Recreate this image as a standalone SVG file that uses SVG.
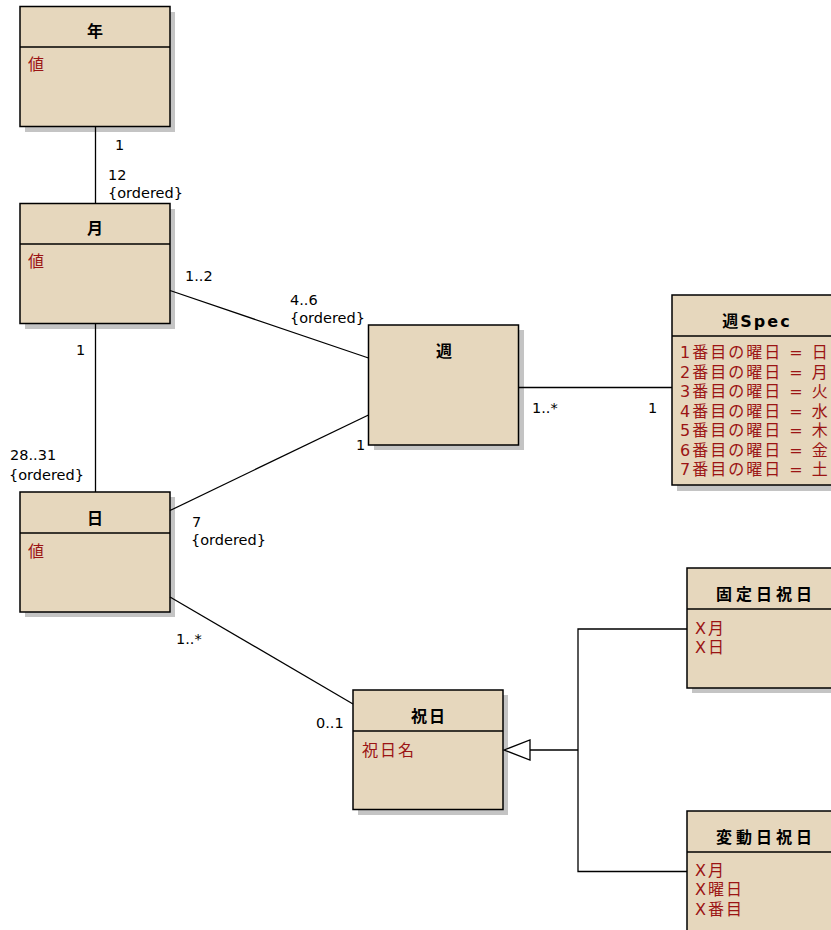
<svg xmlns="http://www.w3.org/2000/svg" width="831" height="930" viewBox="0 0 831 930">
<style>
.shadow{fill:#c4c4c4;stroke:none}
.box{fill:#e6d7bd;stroke:#000;stroke-width:1.5}
.div{stroke:#000;stroke-width:1.5}
.title{font-family:"DejaVu Sans","Noto Sans CJK JP",sans-serif;font-size:16px;font-weight:bold;fill:#000;text-anchor:middle;letter-spacing:2px}
.wide{letter-spacing:4px}
.attr{font-family:"DejaVu Sans","Noto Sans CJK JP",sans-serif;font-size:16px;fill:#9b1414;letter-spacing:2px}
.lbl{font-family:"DejaVu Sans","Noto Sans CJK JP",sans-serif;font-size:14.5px;fill:#000}
.conn{stroke:#000;stroke-width:1.3;fill:none}
</style>
<rect width="831" height="930" fill="#fff"/>

<g id="nen">
<rect class="shadow" x="25" y="12" width="150" height="120"/>
<rect class="box" x="20" y="6.5" width="150" height="120"/>
<line class="div" x1="20" y1="47" x2="170" y2="47"/>
<text class="title" x="96" y="37">年</text>
<text class="attr" x="28" y="70">値</text>
</g>

<g id="tsuki">
<rect class="shadow" x="25" y="209" width="150" height="120"/>
<rect class="box" x="20" y="203.5" width="150" height="120"/>
<line class="div" x1="20" y1="244" x2="170" y2="244"/>
<text class="title" x="96" y="234">月</text>
<text class="attr" x="28" y="267">値</text>
</g>

<g id="hi">
<rect class="shadow" x="25" y="497" width="150" height="120"/>
<rect class="box" x="20" y="492" width="150" height="120"/>
<line class="div" x1="20" y1="533" x2="170" y2="533"/>
<text class="title" x="96" y="524">日</text>
<text class="attr" x="28" y="557">値</text>
</g>

<g id="shu">
<rect class="shadow" x="374" y="330" width="150" height="120"/>
<rect class="box" x="368.5" y="325" width="150" height="120"/>
<text class="title" x="445" y="357">週</text>
</g>

<g id="shuSpec">
<rect class="shadow" x="677" y="300" width="170" height="191"/>
<rect class="box" x="672" y="295" width="170" height="190"/>
<line class="div" x1="672" y1="336" x2="842" y2="336"/>
<text class="title" x="757" y="327">週Spec</text>
<text class="attr" x="680" y="358">1番目の曜日 = 日</text>
<text class="attr" x="680" y="377.5">2番目の曜日 = 月</text>
<text class="attr" x="680" y="397">3番目の曜日 = 火</text>
<text class="attr" x="680" y="416.5">4番目の曜日 = 水</text>
<text class="attr" x="680" y="436">5番目の曜日 = 木</text>
<text class="attr" x="680" y="455.5">6番目の曜日 = 金</text>
<text class="attr" x="680" y="475">7番目の曜日 = 土</text>
</g>

<g id="shukujitsu">
<rect class="shadow" x="358" y="695" width="150" height="120"/>
<rect class="box" x="353" y="690" width="150" height="119.5"/>
<line class="div" x1="353" y1="731" x2="503" y2="731"/>
<text class="title" x="429" y="722">祝日</text>
<text class="attr" x="362" y="756">祝日名</text>
</g>

<g id="koteibi">
<rect class="shadow" x="692" y="573" width="160" height="120"/>
<rect class="box" x="687" y="568" width="160" height="120"/>
<line class="div" x1="687" y1="609" x2="847" y2="609"/>
<text class="title wide" x="766" y="600">固定日祝日</text>
<text class="attr" x="695" y="634">X月</text>
<text class="attr" x="695" y="653">X日</text>
</g>

<g id="hendoubi">
<rect class="shadow" x="692" y="816" width="160" height="120"/>
<rect class="box" x="687" y="811" width="160" height="130"/>
<line class="div" x1="687" y1="852" x2="847" y2="852"/>
<text class="title wide" x="766" y="843">変動日祝日</text>
<text class="attr" x="695" y="875.5">X月</text>
<text class="attr" x="695" y="895">X曜日</text>
<text class="attr" x="695" y="914.5">X番目</text>
</g>

<g id="connectors">
<line class="conn" x1="95.5" y1="126.5" x2="95.5" y2="203.5"/>
<line class="conn" x1="95.5" y1="323.5" x2="95.5" y2="492"/>
<line class="conn" x1="170" y1="290.5" x2="368.5" y2="358"/>
<line class="conn" x1="170" y1="510.5" x2="368.5" y2="415"/>
<line class="conn" x1="518.5" y1="387.5" x2="672" y2="387.5"/>
<line class="conn" x1="170" y1="597" x2="353" y2="704"/>
<polyline class="conn" points="530,750 578,750"/>
<polyline class="conn" points="687,629 578,629 578,871.5 687,871.5"/>
<polygon points="504,750 530,740 530,760" fill="#fff" stroke="#000" stroke-width="1.3"/>
</g>

<g id="labels">
<text class="lbl" x="115" y="150">1</text>
<text class="lbl" x="108" y="180">12</text>
<text class="lbl" x="108" y="198">{ordered}</text>
<text class="lbl" x="185" y="281">1..2</text>
<text class="lbl" x="290" y="305">4..6</text>
<text class="lbl" x="290" y="323">{ordered}</text>
<text class="lbl" x="76" y="355">1</text>
<text class="lbl" x="10" y="460">28..31</text>
<text class="lbl" x="9" y="480">{ordered}</text>
<text class="lbl" x="356" y="450">1</text>
<text class="lbl" x="192" y="527">7</text>
<text class="lbl" x="191" y="545">{ordered}</text>
<text class="lbl" x="532" y="413">1..*</text>
<text class="lbl" x="648" y="413">1</text>
<text class="lbl" x="176" y="644">1..*</text>
<text class="lbl" x="316" y="728">0..1</text>
</g>
</svg>
